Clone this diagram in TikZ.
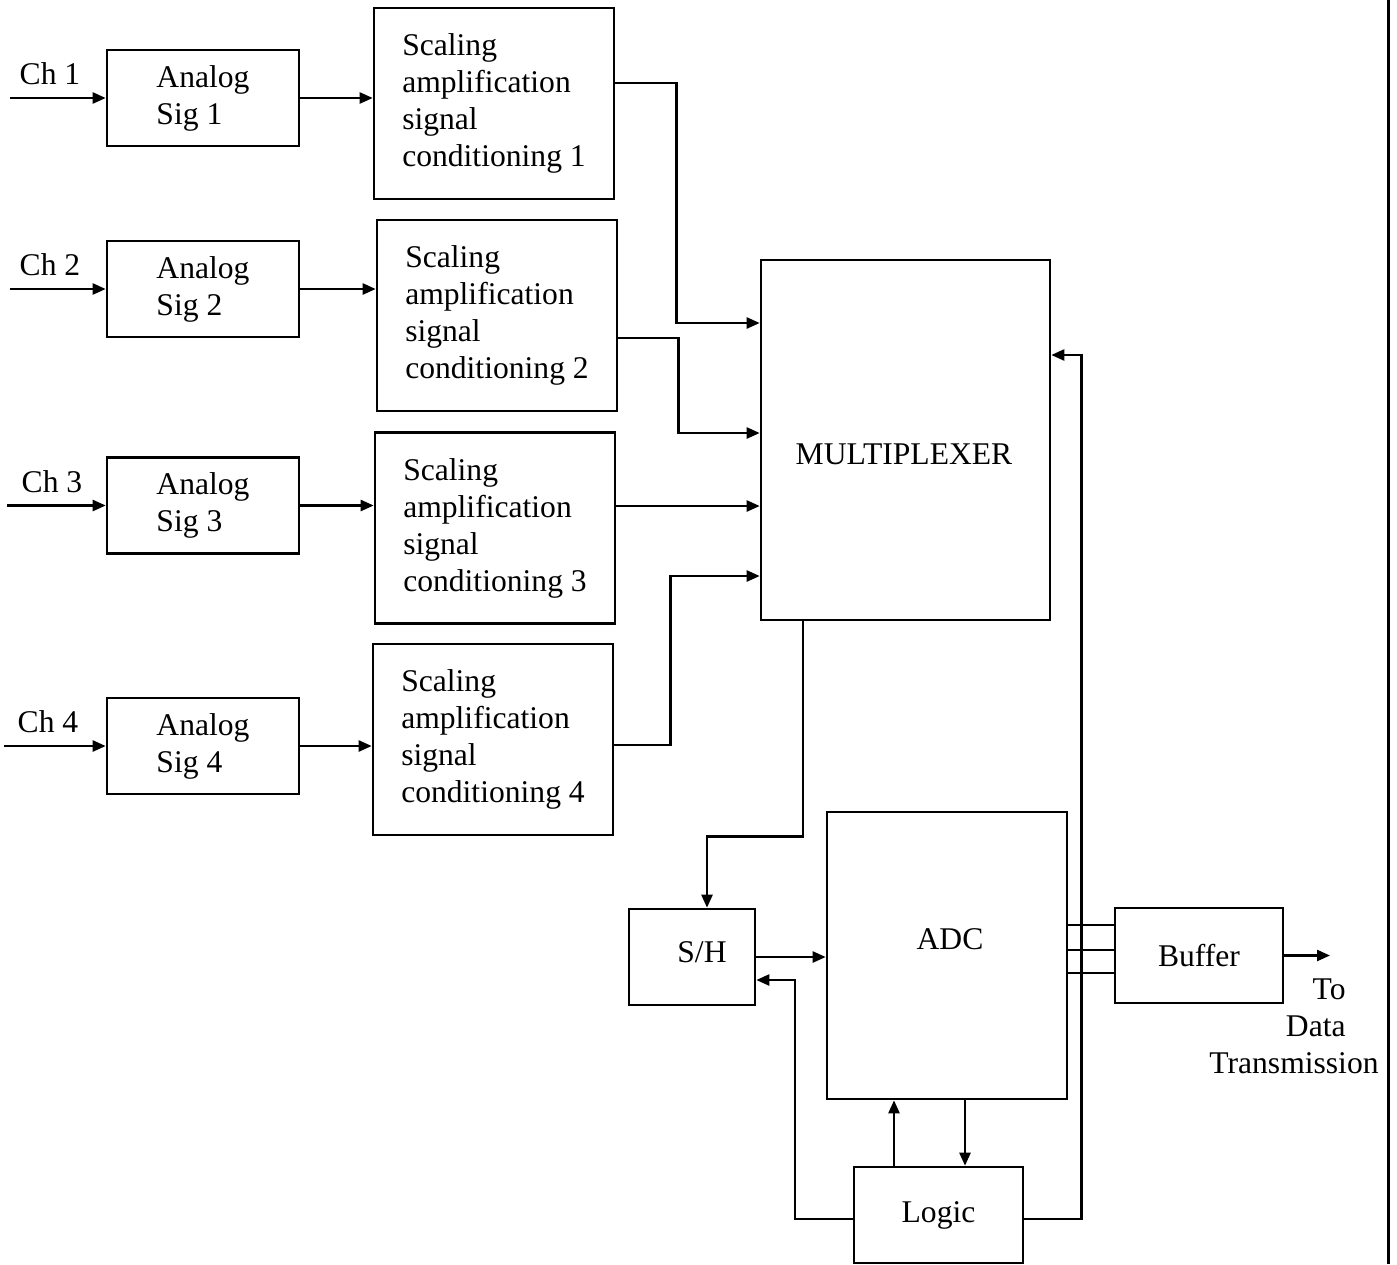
\documentclass[tikz,border=0pt]{standalone}
\usepackage{fontspec}
\setmainfont{Liberation Serif}
\usetikzlibrary{arrows.meta}
\newcommand\blkfont{\fontsize{15.8pt}{18.5pt}\selectfont}
\tikzset{
  box/.style 2 args={draw, line width=1.3pt, inner sep=0pt, align=left,
    minimum width=#1, minimum height=#2},
  wire/.style={line width=1.2pt},
  conn/.style={wire, -{Triangle[length=6.5pt,width=5.5pt]}},
}

\begin{document}
\begin{tikzpicture}[x=0.5pt, y=-0.5pt, font=\blkfont]
\useasboundingbox (0,0) rectangle (1397,1264);

% channels, analog blocks and conditioning blocks
\foreach \i/\y/\xin/\xl/\sx/\sy in {1/98/10/50/494/103.5, 2/289/10/50/497/315.5,
    3/505.5/7/52/495/528, 4/746/4/48/493/739.5} {
  \coordinate (in\i) at (\xin,\y);
  \node (ch\i) at (\xl,\y-24) {Ch \i};
  \node[box={96pt}{48pt}] (a\i) at (203,\y) {Analog\\Sig \i};
  \node[box={120pt}{95.5pt}] (s\i) at (\sx,\sy)
    {Scaling\\amplification\\signal\\conditioning \i};
  \draw[conn] (in\i) -- (a\i.west);
  \draw[conn] (a\i.east) -- (a\i.east -| s\i.west);
}

\node[box={144.5pt}{180pt}] (mux) at (905.5,440) {};
\node (muxtxt) at (904,454) {MULTIPLEXER};
\node[box={63pt}{48pt}] (sh) at (692,957) {};
\node (shtxt) at (702,952) {S/H};
\node[box={120pt}{143.5pt}] (adc) at (947,955.5) {};
\node (adctxt) at (950,939) {ADC};
\node[box={84.5pt}{48pt}] (logic) at (938.5,1215) {Logic};
\node[box={84pt}{47.5pt}] (buf) at (1199,955.5) {Buffer};
\coordinate (out) at (1330,955.5);
\node[align=right] (dest) at (1294,1026)
  {To\kern16.5pt\\Data\kern16.5pt\\Transmission};

% into the multiplexer
\draw[conn] ([yshift=10.25pt]s1.east) -- ++(61,0) |- ([yshift=58.5pt]mux.west);
\draw[conn] ([yshift=-11.25pt]s2.east) -- ++(60,0) |- ([yshift=3.5pt]mux.west);
\draw[conn] ([yshift=11pt]s3.east) -- ([yshift=11pt]s3.east -| mux.west);
\draw[conn] ([yshift=-2.75pt]s4.east) -- ++(56,0) |- ([yshift=-68pt]mux.west);

% conversion chain
\draw[conn] ([xshift=-51.25pt]mux.south) -- ++(0,215) -| ([xshift=7.5pt]sh.north);
\draw[conn] (sh.east) -- (sh.east -| adc.west);
\draw[conn] ([xshift=-22.25pt]logic.north) -- ([xshift=-22.25pt]logic.north |- adc.south);
\draw[conn] ([xshift=13.25pt]logic.north |- adc.south) -- ([xshift=13.25pt]logic.north);
\draw[conn] ([yshift=-2pt]logic.west) -- ++(-58,0) |- ([yshift=-11.5pt]sh.east);
\draw[conn] ([yshift=-2pt]logic.east) -- ++(57,0) |- ([yshift=42.5pt]mux.east);
\foreach \d in {15.25,2.75,-8.75}
  \draw[wire] ([yshift=\d pt]adc.east) -- ([yshift=\d pt]adc.east -| buf.west);
\draw[conn] (buf.east) -- (out);

% page edge
\draw[line width=1.5pt] (1388,0) -- (1388,1264);
\end{tikzpicture}
\end{document}
